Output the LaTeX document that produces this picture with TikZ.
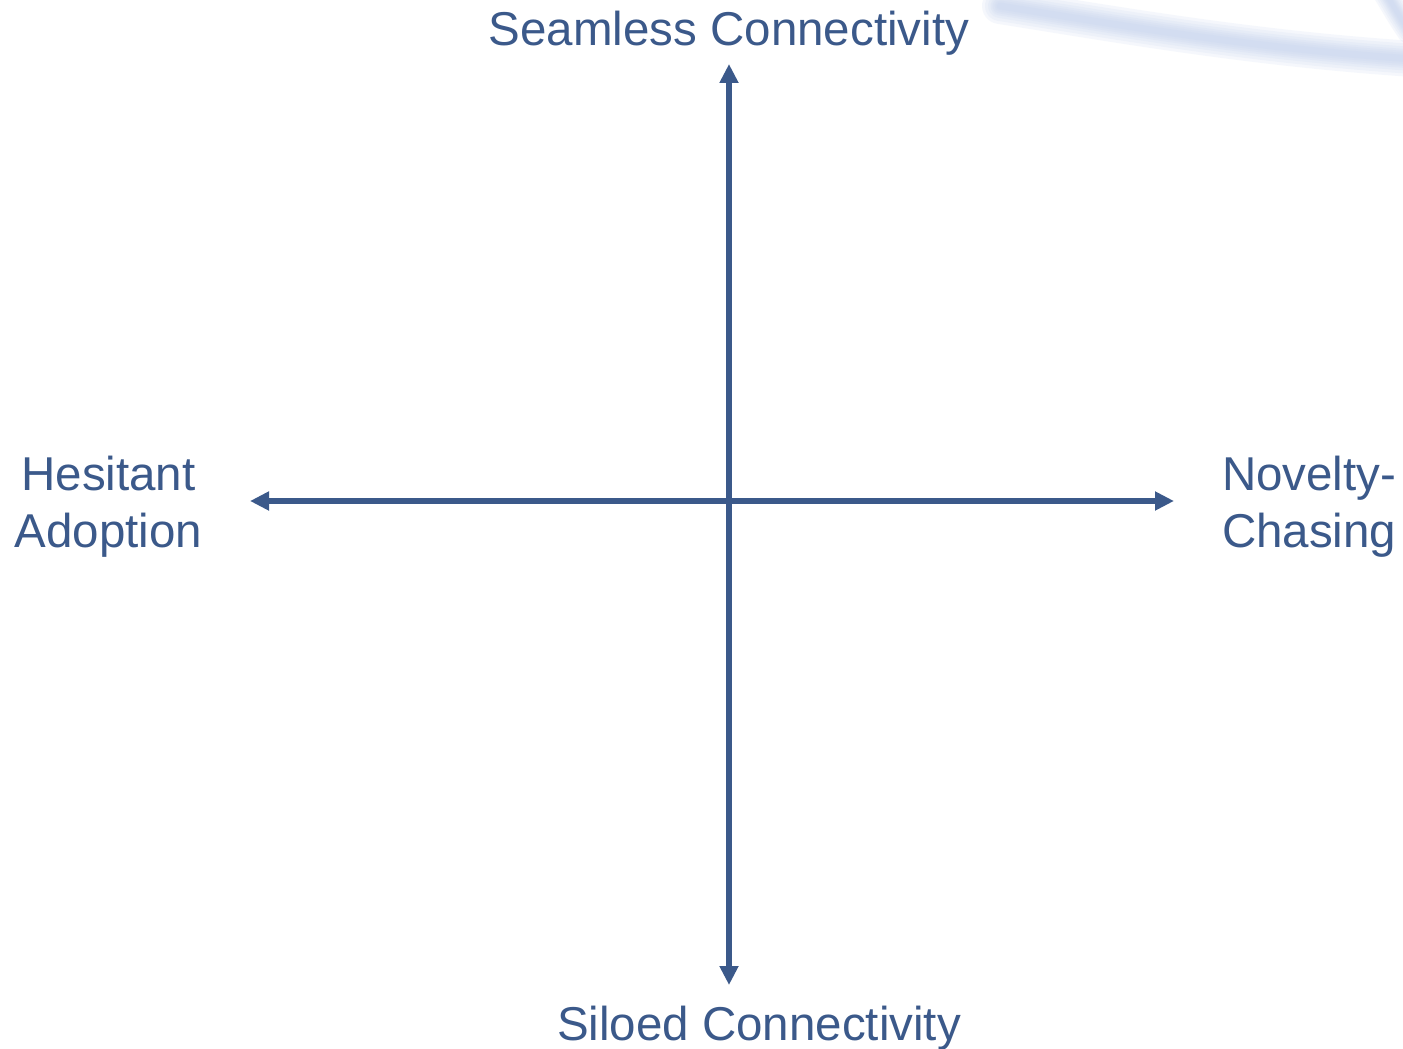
\documentclass[tikz,border=0pt]{standalone}
\usepackage{fontspec}
\setmainfont{Liberation Sans}
\usetikzlibrary{arrows.meta}
\definecolor{axisblue}{RGB}{59,89,138}
\definecolor{swoosh}{RGB}{196,211,238}
\tikzset{
  axis/.style={draw=axisblue, line width=5.5pt, {Triangle[length=19pt,width=18pt]}-{Triangle[length=19pt,width=18pt]}},
  lbl/.style={text=axisblue, font=\fontsize{47.5}{57}\selectfont, inner sep=0pt, outer sep=0pt},
  blur/.style={draw=swoosh, line cap=round, opacity=0.16}
}
\begin{document}
\begin{tikzpicture}[x=1pt,y=-1pt]
\useasboundingbox[fill=white] (0,0) rectangle (1403,1049);
% swoosh decoration
\begin{scope}
\clip (0,0) rectangle (1403,1049);
\foreach \w in {36,30,24,19,15,11,7} {
  \draw[blur, line width=\w pt] (1000,6) .. controls (1120,25) and (1260,50) .. (1430,60);
  \draw[blur, line width=0.7*\w pt] (1385,-8) .. controls (1393,5) and (1400,18) .. (1410,32);
}
\end{scope}
% axes
\coordinate (top) at (729,64);
\coordinate (bottom) at (729,985);
\coordinate (left) at (250,501);
\coordinate (right) at (1174,501);
\draw[axis] (bottom) -- (top);
\draw[axis] (left) -- (right);
% labels
\node[lbl, anchor=base] (seam) at (729,46) {Seamless Connectivity};
\node[lbl, anchor=base] (silo) at (759,1040) {Siloed Connectivity};
\node[lbl, anchor=base, align=center] (hes) at (108.5,547) {Hesitant\\Adoption};
\node[lbl, anchor=base west, align=left] (nov) at (1222,547) {Novelty-\\Chasing};
\end{tikzpicture}
\end{document}
